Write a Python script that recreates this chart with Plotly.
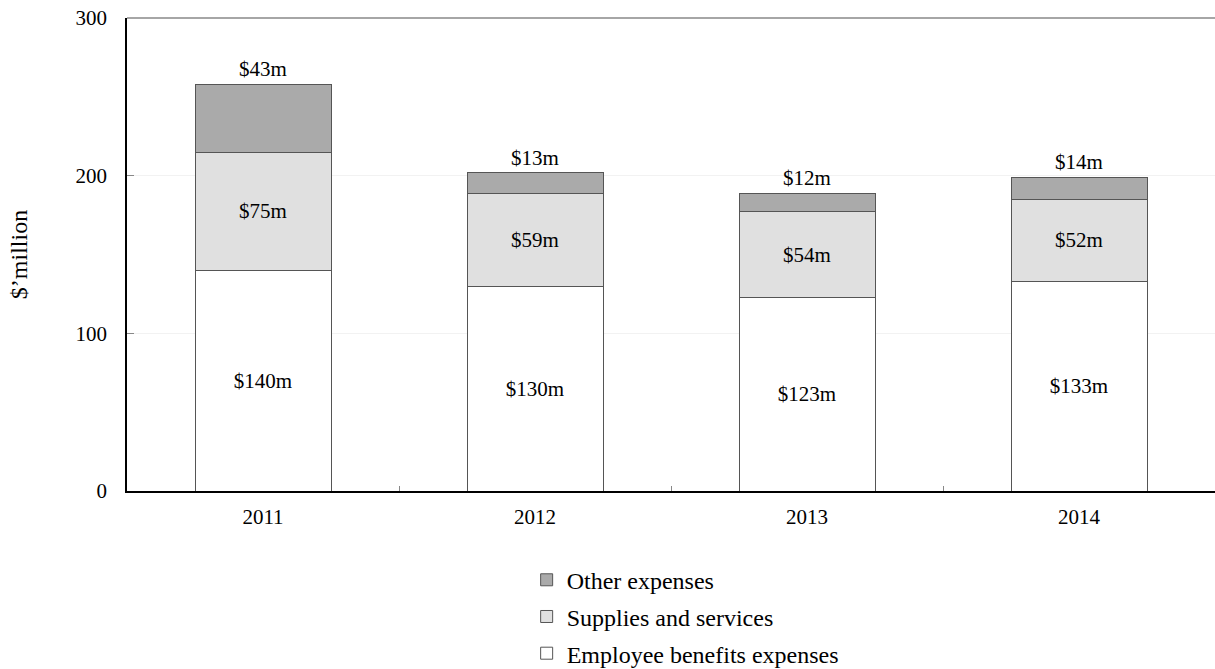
import plotly.graph_objects as go

# Expense categories by year ($ million)
years = ["2011", "2012", "2013", "2014"]
employee_benefits = [140, 130, 123, 133]
supplies_services = [75, 59, 54, 52]
other_expenses = [43, 13, 12, 14]

# (name, values, fill colour, legend rank) in stacking order, bottom first
series = [
    ("Employee benefits expenses", employee_benefits, "#ffffff", 3),
    ("Supplies and services", supplies_services, "#e0e0e0", 2),
    ("Other expenses", other_expenses, "#aaaaaa", 1),
]

FONT = "Liberation Serif, Times New Roman, serif"
LABEL_SIZE = 21

fig = go.Figure()
for i, (name, vals, color, rank) in enumerate(series):
    top = i == len(series) - 1
    fig.add_trace(go.Bar(
        x=years,
        y=vals,
        name=name,
        legendgroup=name,
        legendrank=rank,
        marker=dict(color=color, line=dict(color="#555555", width=1)),
        width=0.5,
        text=[f"${v}m" for v in vals],
        textposition="outside" if top else "inside",
        insidetextanchor="middle",
        textfont=dict(family=FONT, size=LABEL_SIZE, color="#000000"),
        cliponaxis=False,
    ))

fig.update_layout(
    barmode="stack",
    width=1215,
    height=669,
    margin=dict(l=127, r=0, t=18, b=178, autoexpand=False),
    paper_bgcolor="white",
    plot_bgcolor="white",
    font=dict(family=FONT, size=LABEL_SIZE, color="#000000"),
    uniformtext=dict(mode=False),
    legend=dict(
        orientation="v",
        x=0.513, xanchor="center",
        y=-0.141, yanchor="top",
        traceorder="grouped",
        tracegroupgap=2.5,
        font=dict(family=FONT, size=24),
        itemwidth=30,
    ),
    showlegend=True,
)

fig.update_xaxes(
    type="category",
    range=[-0.5, 3.5],
    showline=True, linecolor="#000000", linewidth=1.5,
    ticks="inside", tickson="boundaries", ticklen=5, tickcolor="#888888",
    showgrid=False,
    ticklabelstandoff=6,
    tickfont=dict(family=FONT, size=LABEL_SIZE),
)
fig.update_yaxes(
    range=[0, 300],
    tickvals=[0, 100, 200, 300],
    showline=True, linecolor="#000000", linewidth=1.5,
    ticks="inside", ticklen=7, tickcolor="#888888",
    showgrid=True, gridcolor="#f2f2f2", gridwidth=1,
    zeroline=False,
    ticklabelstandoff=14,
    tickfont=dict(family=FONT, size=LABEL_SIZE),
    title=dict(text="$’million", font=dict(family=FONT, size=24), standoff=41),
)

# Gray top frame line of the plot area
fig.add_shape(type="line", xref="paper", yref="paper",
              x0=0, x1=1, y0=1, y1=1,
              line=dict(color="#888888", width=1.5))

fig.write_html("out.html")
